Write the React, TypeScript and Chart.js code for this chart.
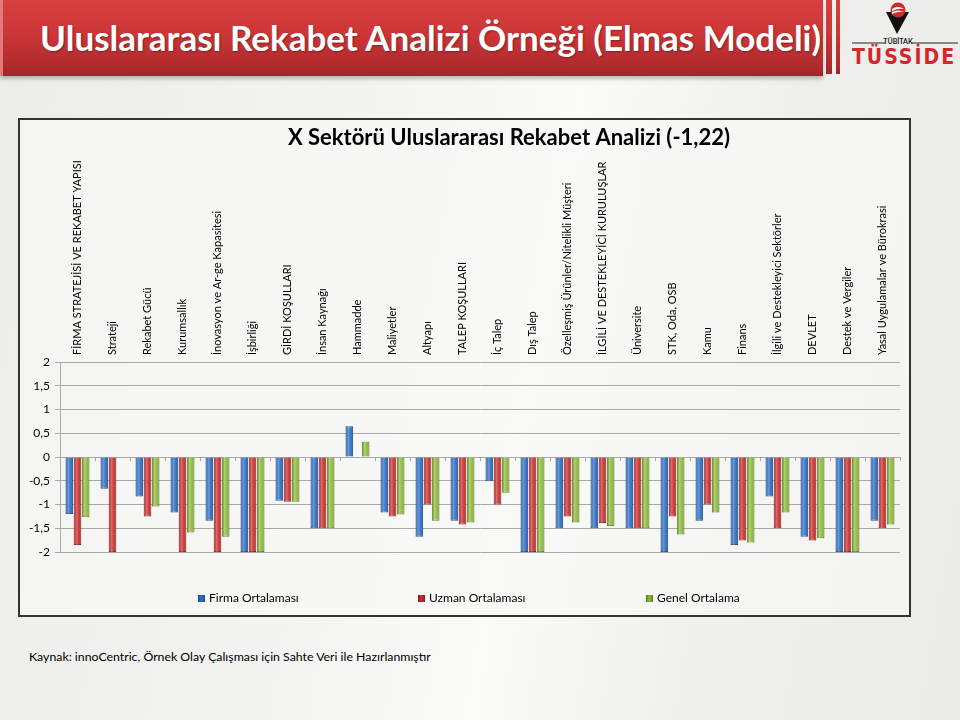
import React, { useEffect, useRef } from 'react';
import { Chart, registerables } from 'chart.js';

Chart.register(...registerables);

const categories = [
  'FİRMA STRATEJİSİ VE REKABET YAPISI',
  'Strateji',
  'Rekabet Gücü',
  'Kurumsallık',
  'İnovasyon ve Ar-ge Kapasitesi',
  'İşbirliği',
  'GİRDİ KOŞULLARI',
  'İnsan Kaynağı',
  'Hammadde',
  'Maliyetler',
  'Altyapı',
  'TALEP KOŞULLARI',
  'İç Talep',
  'Dış Talep',
  'Özelleşmiş Ürünler/Nitelikli Müşteri',
  'İLGİLİ VE DESTEKLEYİCİ KURULUŞLAR',
  'Üniversite',
  'STK, Oda, OSB',
  'Kamu',
  'Finans',
  'İlgili ve Destekleyici Sektörler',
  'DEVLET',
  'Destek ve Vergiler',
  'Yasal Uygulamalar ve Bürokrasi',
];

const firmaOrtalamasi = [-1.2, -0.67, -0.83, -1.17, -1.34, -2, -0.92, -1.5, 0.65, -1.17, -1.68, -1.34, -0.51, -2, -1.5, -1.5, -1.5, -2, -1.34, -1.85, -0.83, -1.68, -2, -1.34];
const uzmanOrtalamasi = [-1.85, -2, -1.25, -2, -2, -2, -0.94, -1.5, null, -1.25, -1.0, -1.42, -1.0, -2, -1.25, -1.39, -1.5, -1.25, -1.0, -1.76, -1.5, -1.76, -2, -1.5];
const genelOrtalama = [-1.27, null, -1.04, -1.59, -1.68, -2, -0.94, -1.5, 0.32, -1.21, -1.34, -1.38, -0.75, -2, -1.38, -1.45, -1.5, -1.63, -1.17, -1.8, -1.17, -1.71, -2, -1.42];

const seriesNames = ['Firma Ortalaması', 'Uzman Ortalaması', 'Genel Ortalama'];
const yMin = -2;
const yMax = 2;
const yStep = 0.5;

const slideTitle = 'Uluslararası Rekabet Analizi Örneği (Elmas Modeli)';
const chartTitle = 'X Sektörü Uluslararası Rekabet Analizi (-1,22)';
const sourceText = 'Kaynak: innoCentric, Örnek Olay Çalışması için Sahte Veri ile Hazırlanmıştır';

const FONT = 'Lato, "Open Sans", "DejaVu Sans", sans-serif';

const fills = ['#2f6ec4', '#c8302f', '#8cb83a'];
const borders = ['#1d4a8a', '#8a1d1f', '#5e8024'];

const barShine = {
  id: 'barShine',
  afterDatasetsDraw(chart: any) {
    const ctx = chart.ctx;
    ctx.save();
    chart.data.datasets.forEach((_ds: any, di: number) => {
      const meta = chart.getDatasetMeta(di);
      meta.data.forEach((el: any) => {
        if (el.skip) return;
        const p = el.getProps(['x', 'y', 'base', 'width'], true);
        if (p.y == null || isNaN(p.y)) return;
        const h = Math.abs(p.base - p.y);
        if (h < 1) return;
        const left = p.x - p.width / 2;
        const top = Math.min(p.y, p.base);
        const g = ctx.createLinearGradient(left, 0, left + p.width, 0);
        g.addColorStop(0, 'rgba(0,0,0,0.10)');
        g.addColorStop(0.35, 'rgba(255,255,255,0.30)');
        g.addColorStop(0.65, 'rgba(255,255,255,0.08)');
        g.addColorStop(1, 'rgba(0,0,0,0.15)');
        ctx.fillStyle = g;
        ctx.fillRect(left + 1, top, p.width - 2, h);
      });
    });
    ctx.restore();
  },
};

const zeroTicks = {
  id: 'zeroTicks',
  beforeDatasetsDraw(chart: any) {
    const xs = chart.scales.x;
    const ys = chart.scales.y;
    const ctx = chart.ctx;
    const y0 = ys.getPixelForValue(0);
    const n = chart.data.labels.length;
    ctx.save();
    ctx.strokeStyle = '#a6a6a6';
    ctx.lineWidth = 1;
    ctx.beginPath();
    for (let i = 0; i <= n; i++) {
      const px = Math.round(xs.left + (i * xs.width) / n) + 0.5;
      ctx.moveTo(px, y0);
      ctx.lineTo(px, y0 + 4);
    }
    ctx.stroke();
    ctx.restore();
  },
};

const offsetTitle = {
  id: 'offsetTitle',
  afterDraw(chart: any) {
    const ctx = chart.ctx;
    ctx.save();
    ctx.font = `bold 22px ${FONT}`;
    ctx.fillStyle = '#000';
    ctx.textAlign = 'center';
    ctx.textBaseline = 'middle';
    ctx.fillText(chartTitle, chart.chartArea.left + chart.chartArea.width / 2 + 29, 18);
    ctx.restore();
  },
};

const spacedLegend = {
  id: 'spacedLegend',
  afterDraw(chart: any) {
    const ctx = chart.ctx;
    ctx.save();
    ctx.font = `12px ${FONT}`;
    ctx.textBaseline = 'middle';
    ctx.textAlign = 'left';
    const box = 7;
    const gapText = 4;
    const gapItem = 120;
    const ds = chart.data.datasets;
    const widths = ds.map((d: any) => box + gapText + ctx.measureText(d.label).width);
    const total = widths.reduce((a: number, b: number) => a + b, 0) + gapItem * (widths.length - 1);
    let x = chart.width / 2 + 4 - total / 2;
    const y = chart.chartArea.bottom + 46;
    ds.forEach((d: any, i: number) => {
      const bx = Math.round(x);
      const by = Math.round(y - box / 2);
      const g = ctx.createLinearGradient(bx, 0, bx + box, 0);
      g.addColorStop(0, borders[i]);
      g.addColorStop(0.5, fills[i]);
      g.addColorStop(1, borders[i]);
      ctx.fillStyle = g;
      ctx.fillRect(bx, by, box, box);
      ctx.fillStyle = '#000';
      ctx.fillText(d.label, bx + box + gapText, y + 0.5);
      x += widths[i] + gapItem;
    });
    ctx.restore();
  },
};

function BarChart() {
  const ref = useRef<HTMLCanvasElement | null>(null);
  useEffect(() => {
    if (!ref.current) return;
    const seriesData = [firmaOrtalamasi, uzmanOrtalamasi, genelOrtalama];
    const chart = new Chart(ref.current, {
      type: 'bar',
      data: {
        labels: categories,
        datasets: seriesNames.map((name, i) => ({
          label: name,
          data: seriesData[i] as any,
          backgroundColor: fills[i],
          borderColor: borders[i],
          borderWidth: 1,
          categoryPercentage: 0.7,
          barPercentage: 0.94,
        })),
      },
      options: {
        responsive: false,
        animation: false,
        layout: { padding: { left: 0, right: 9, top: 29, bottom: 63 } },
        plugins: {
          legend: { display: false },
          tooltip: { enabled: false },
          title: { display: false },
        },
        scales: {
          x: {
            position: 'top',
            grid: { display: false, drawTicks: false },
            border: { display: false },
            ticks: {
              autoSkip: false,
              minRotation: 90,
              maxRotation: 90,
              padding: 7,
              labelOffset: 13,
              color: '#000',
              font: { family: FONT, size: 11 },
            },
            afterFit: (s: any) => {
              s.height = 213;
            },
          },
          y: {
            min: yMin,
            max: yMax,
            grid: { color: '#a9a9a9', tickLength: 5, lineWidth: 1 },
            border: { color: '#a9a9a9' },
            ticks: {
              stepSize: yStep,
              padding: 5,
              color: '#000',
              font: { family: FONT, size: 12 },
              callback: (v: any) => String(v).replace('.', ','),
            },
            afterFit: (s: any) => {
              s.width = 40;
            },
          },
        },
      } as any,
      plugins: [zeroTicks, barShine, offsetTitle, spacedLegend],
    });
    return () => chart.destroy();
  }, []);
  return <canvas ref={ref} width={889} height={495} style={{ display: 'block', width: 889, height: 495 }} />;
}

export default function App() {
  const redGrad = 'linear-gradient(to bottom, #d8403f 0%, #cc3637 45%, #b22b2e 85%, #a02629 100%)';
  return (
    <div
      style={{
        position: 'fixed',
        left: 0,
        top: 0,
        width: 960,
        height: 720,
        overflow: 'hidden',
        background: 'linear-gradient(100deg, #ececea 0%, #f3f3f1 35%, #fafaf9 55%, #efefed 75%, #eaeae8 100%)',
        fontFamily: FONT,
      }}
    >
      <div
        style={{
          position: 'absolute',
          left: 0,
          top: 0,
          width: 823,
          height: 76,
          background: redGrad,
          boxShadow: '0 3px 4px rgba(0,0,0,0.25)',
          borderLeft: '3px solid #e27a7a',
          boxSizing: 'border-box',
        }}
      />
      <div
        style={{
          position: 'absolute',
          left: 40,
          top: 14,
          height: 46,
          lineHeight: '46px',
          color: '#fff',
          fontSize: 35,
          fontWeight: 700,
          whiteSpace: 'nowrap',
          textShadow: '1px 1px 2px rgba(0,0,0,0.35)',
        }}
      >
        {slideTitle}
      </div>
      <div style={{ position: 'absolute', left: 826, top: 0, width: 6, height: 74, background: redGrad }} />
      <div style={{ position: 'absolute', left: 836, top: 0, width: 4, height: 74, background: redGrad }} />
      <svg style={{ position: 'absolute', left: 845, top: 0 }} width={115} height={76}>
        <polygon points="41,12 64,12 52,34" fill="#111" />
        <circle cx={53} cy={10} r={7.5} fill="#d22a2a" />
        <path d="M47,9 Q53,5 59,9 Q53,8 47,11 Z" fill="#fff" />
        <path d="M47,12 Q53,9 59,12 Q53,11 47,14 Z" fill="#fff" />
        <line x1={7} y1={43} x2={40} y2={43} stroke="#222" strokeWidth={1} />
        <line x1={66} y1={43} x2={113} y2={43} stroke="#222" strokeWidth={1} />
        <text x={53} y={44} textAnchor="middle" fontSize={7} fontWeight={700} fill="#222" fontFamily={FONT}>
          TÜBİTAK
        </text>
        <text
          x={59}
          y={64}
          textAnchor="middle"
          fontSize={21}
          fontWeight={700}
          fill="#d0282c"
          letterSpacing={2}
          fontFamily='"DejaVu Sans Condensed", "Liberation Sans Narrow", "DejaVu Sans", sans-serif'
        >
          TÜSSİDE
        </text>
      </svg>
      <div
        style={{
          position: 'absolute',
          left: 18,
          top: 118,
          width: 893,
          height: 499,
          border: '2px solid #333',
          boxSizing: 'border-box',
          background: 'rgba(248,248,246,0.7)',
        }}
      >
        <BarChart />
      </div>
      <div
        style={{
          position: 'absolute',
          left: 29,
          top: 649,
          fontSize: 12.3,
          color: '#000',
          whiteSpace: 'nowrap',
          lineHeight: '16px',
        }}
      >
        {sourceText}
      </div>
    </div>
  );
}
